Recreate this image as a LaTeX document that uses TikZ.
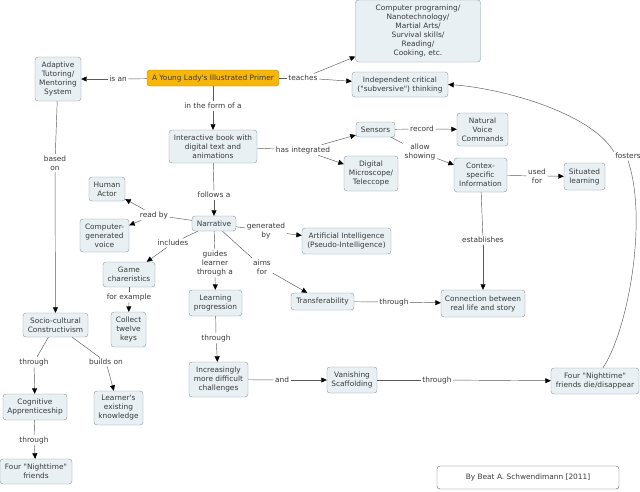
\documentclass[tikz,border=0pt]{standalone}
\usepackage{fontspec}
\newfontfamily\mapfont{DejaVu Sans}
\usetikzlibrary{arrows.meta}
\definecolor{conceptfill}{HTML}{E8F0F4}
\definecolor{conceptline}{HTML}{8A959A}
\definecolor{primerfill}{HTML}{F6B60A}
\definecolor{primerline}{HTML}{B58A12}
\definecolor{maptext}{HTML}{3A3A3A}
\definecolor{linkline}{HTML}{5A5A5A}
\tikzset{
  concept/.style={draw=conceptline, fill=conceptfill, rounded corners=3pt, align=center,
                  inner sep=1pt, text=maptext, font=\mapfont\fontsize{7.4}{9}\selectfont},
  primer/.style={concept, draw=primerline, fill=primerfill},
  credit/.style={concept, draw=linkline, fill=white},
  boxsize/.style 2 args={minimum width=#1pt, minimum height=#2pt},
  linklabel/.style={align=center, inner sep=1.5pt, text=maptext,
                    font=\mapfont\fontsize{7.4}{9}\selectfont},
  link/.style={draw=linkline, line width=0.45pt},
  linkarrow/.style={link, -{Triangle[length=5.5pt,width=5pt,color=black]}},
}

\begin{document}
\begin{tikzpicture}[x=1pt, y=-1pt]
  \useasboundingbox[fill=white] (0,0) rectangle (640,491);

  % concepts
  \node[primer, boxsize={132}{16}] (primer) at (213,78) {A Young Lady's Illustrated Primer};
  \node[concept, boxsize={46}{44}] (adaptive) at (58,79) {Adaptive\\Tutoring/\\Mentoring\\System};
  \node[concept, boxsize={125}{62}] (skills) at (418,31) {Computer programing/\\Nanotechnology/\\Martial Arts/\\Survival skills/\\Reading/\\Cooking, etc.};
  \node[concept, boxsize={96}{25}] (independent) at (400,84.5) {Independent critical\\("subversive") thinking};
  \node[concept, boxsize={88}{33}] (ibook) at (213,146.5) {Interactive book with\\digital text and\\animations};
  \node[concept, boxsize={39}{15}] (sensors) at (375.5,129.5) {Sensors};
  \node[concept, boxsize={51}{33}] (voicecmd) at (482.5,129.5) {Natural\\Voice\\Commands};
  \node[concept, boxsize={54}{35}] (microscope) at (371,173.5) {Digital\\Microscope/\\Teleccope};
  \node[concept, boxsize={53}{34}] (contex) at (480.5,175) {Contex-\\specific\\Information};
  \node[concept, boxsize={41}{27}] (situated) at (584.5,176.5) {Situated\\learning};
  \node[concept, boxsize={36}{24}] (actor) at (107,189) {Human\\Actor};
  \node[concept, boxsize={49}{33}] (compvoice) at (104.5,235.5) {Computer-\\generated\\voice};
  \node[concept, boxsize={44}{15}] (narrative) at (214,223.5) {Narrative};
  \node[concept, boxsize={89}{26}] (ai) at (346.5,241) {Artificial Intelligence\\(Pseudo-Intelligence)};
  \node[concept, boxsize={52}{25}] (game) at (129,274.5) {Game\\chareristics};
  \node[concept, boxsize={35}{35}] (keys) at (128.5,329.5) {Collect\\twelve\\keys};
  \node[concept, boxsize={53}{26}] (progression) at (215.5,303) {Learning\\progression};
  \node[concept, boxsize={63}{17}] (transfer) at (322.5,301.5) {Transferability};
  \node[concept, boxsize={84}{27}] (connection) at (483,303.5) {Connection between\\real life and story};
  \node[concept, boxsize={65}{24}] (socio) at (55.5,325) {Socio-cultural\\Constructivism};
  \node[concept, boxsize={64}{26}] (cognitive) at (35,407) {Cognitive\\Apprenticeship};
  \node[concept, boxsize={49}{34}] (learnerknow) at (118.5,408) {Learner's\\existing\\knowledge};
  \node[concept, boxsize={72}{25}] (friends) at (36,471.5) {Four "Nighttime"\\friends};
  \node[concept, boxsize={59}{35}] (challenges) at (218.5,379.5) {Increasingly\\more difficult\\challenges};
  \node[concept, boxsize={50}{26}] (scaffold) at (352,380) {Vanishing\\Scaffolding};
  \node[concept, boxsize={88}{26}] (friendsdie) at (595,381) {Four "Nighttime"\\friends die/disappear};
  \node[credit, boxsize={182}{23}] (credit) at (528,477.5) {By Beat A. Schwendimann [2011]};

  % linking phrases
  \node[linklabel] (isan) at (118,79) {is an};
  \node[linklabel] (teaches) at (303,78) {teaches};
  \node[linklabel] (formof) at (213,106) {in the form of a};
  \node[linklabel] (hasint) at (303,150) {has integrated};
  \node[linklabel] (record) at (422,129) {record};
  \node[linklabel] (allow) at (420,152) {allow\\showing};
  \node[linklabel] (usedfor) at (537,176) {used\\for};
  \node[linklabel] (establishes) at (483,240) {establishes};
  \node[linklabel] (follows) at (214,195) {follows a};
  \node[linklabel] (readby) at (154,215) {read by};
  \node[linklabel] (genby) at (266,231) {generated\\by};
  \node[linklabel] (includes) at (173,243) {includes};
  \node[linklabel] (guides) at (215,263) {guides\\learner\\through a};
  \node[linklabel] (aimsfor) at (262,267) {aims\\for};
  \node[linklabel] (forex) at (129,297) {for example};
  \node[linklabel] (thrprog) at (216,338) {through};
  \node[linklabel] (and) at (282,380) {and};
  \node[linklabel] (thrscaf) at (437,380) {through};
  \node[linklabel] (thrtrans) at (394,302) {through};
  \node[linklabel] (basedon) at (55,163) {based\\on};
  \node[linklabel] (thrsocio) at (34,362) {through};
  \node[linklabel] (buildson) at (106,362) {builds on};
  \node[linklabel] (thrcog) at (34,440) {through};
  \node[linklabel] (fosters) at (628,156) {fosters};

  % connectors
  \draw[link] (primer) -- (isan);
  \draw[linkarrow] (isan) -- (adaptive);
  \draw[link] (primer) -- (teaches);
  \draw[linkarrow] (teaches) -- (skills);
  \draw[linkarrow] (teaches) -- (independent);
  \draw[link] (primer) -- (formof);
  \draw[linkarrow] (formof) -- (ibook);
  \draw[link] (ibook) -- (hasint);
  \draw[linkarrow] (hasint) -- (sensors);
  \draw[linkarrow] (hasint) -- (microscope);
  \draw[link] (sensors) -- (record);
  \draw[linkarrow] (record) -- (voicecmd);
  \draw[link] (sensors) -- (allow);
  \draw[linkarrow] (allow) -- (contex);
  \draw[link] (contex) -- (usedfor);
  \draw[linkarrow] (usedfor) -- (situated);
  \draw[link] (contex) -- (establishes);
  \draw[linkarrow] (establishes) -- (connection);
  \draw[link] (ibook) -- (follows);
  \draw[linkarrow] (follows) -- (narrative);
  \draw[link] (narrative) -- (readby);
  \draw[linkarrow] (readby) -- (actor);
  \draw[linkarrow] (readby) -- (compvoice);
  \draw[link] (narrative) -- (genby);
  \draw[linkarrow] (genby) -- (ai);
  \draw[link] (narrative) -- (includes);
  \draw[linkarrow] (includes) -- (game);
  \draw[link] (narrative) -- (guides);
  \draw[linkarrow] (guides) -- (progression);
  \draw[link] (narrative) -- (aimsfor);
  \draw[linkarrow] (aimsfor) -- (transfer);
  \draw[link] (game) -- (forex);
  \draw[linkarrow] (forex) -- (keys);
  \draw[link] (progression) -- (thrprog);
  \draw[linkarrow] (thrprog) -- (challenges);
  \draw[link] (challenges) -- (and);
  \draw[linkarrow] (and) -- (scaffold);
  \draw[link] (scaffold) -- (thrscaf);
  \draw[linkarrow] (thrscaf) -- (friendsdie);
  \draw[link] (transfer) -- (thrtrans);
  \draw[linkarrow] (thrtrans) -- (connection);
  \draw[link] (adaptive) -- (basedon);
  \draw[linkarrow] (basedon) -- (socio);
  \draw[link] (socio) -- (thrsocio);
  \draw[linkarrow] (thrsocio) -- (cognitive);
  \draw[link] (socio) -- (buildson);
  \draw[linkarrow] (buildson) -- (learnerknow);
  \draw[link] (cognitive) -- (thrcog);
  \draw[linkarrow] (thrcog) -- (friends);
  \draw[link] ([xshift=8pt]friendsdie.north) .. controls (628,330) and (648,220) .. (fosters.south);
  \draw[linkarrow] (fosters.north west) .. controls (590,112) and (500,88) .. (independent.east);
\end{tikzpicture}
\end{document}
